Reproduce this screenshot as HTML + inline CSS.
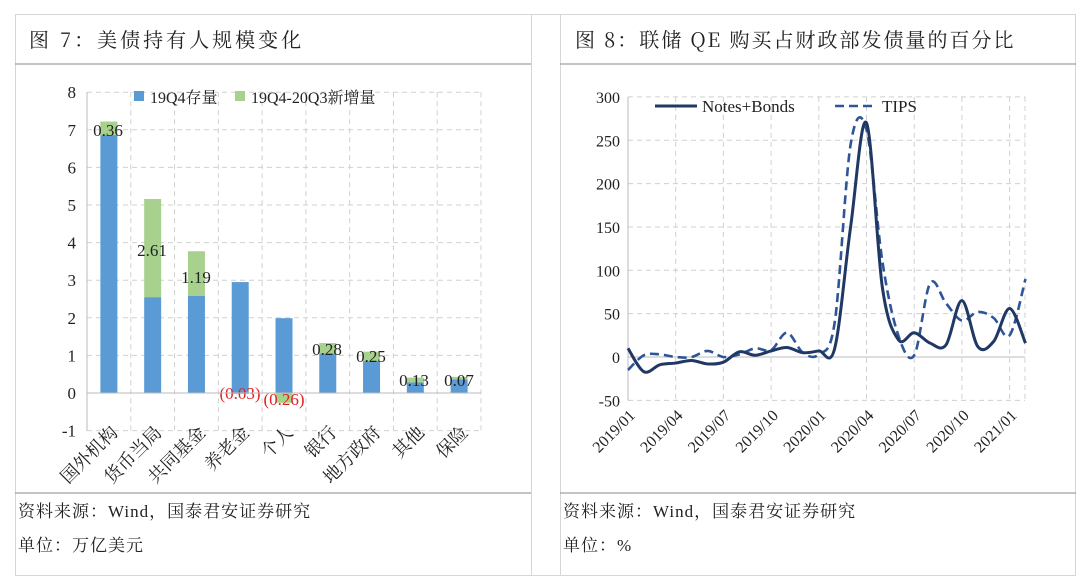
<!DOCTYPE html>
<html><head><meta charset="utf-8"><style>
body{margin:0;background:#fff;}
svg{display:block;font-family:"Liberation Serif","Noto Serif CJK SC",serif;}
</style></head><body>
<svg width="1080" height="585" viewBox="0 0 1080 585" xmlns="http://www.w3.org/2000/svg">
<rect width="1080" height="585" fill="#fff"/>
<g stroke="#d6d6d6" stroke-width="1" fill="none">
<line x1="15" y1="14.5" x2="1076" y2="14.5"/>
<line x1="15" y1="575.5" x2="1076" y2="575.5"/>
<line x1="15.5" y1="14" x2="15.5" y2="576"/>
<line x1="1075.5" y1="14" x2="1075.5" y2="576"/>
<line x1="531.5" y1="14" x2="531.5" y2="576"/>
<line x1="560.5" y1="14" x2="560.5" y2="576"/>
</g>
<g stroke="#a0a0a0" stroke-width="1.2">
<line x1="15" y1="64" x2="531" y2="64"/><line x1="560" y1="64" x2="1076" y2="64"/>
<line x1="15" y1="493" x2="531" y2="493"/><line x1="560" y1="493" x2="1076" y2="493"/>
</g>
<g font-family="'Noto Serif CJK SC','Liberation Serif',serif" font-size="20" fill="#222">
<text x="29" y="47" letter-spacing="3">图 7：美债持有人规模变化</text>
<text x="575" y="47" letter-spacing="2">图 8：联储 QE 购买占财政部发债量的百分比</text>
</g>
<g font-family="'Liberation Serif','Noto Serif CJK SC',serif" font-size="17" fill="#222">
<text x="18" y="517" letter-spacing="1">资料来源：Wind，国泰君安证券研究</text>
<text x="18" y="551" letter-spacing="1">单位：万亿美元</text>
<text x="563" y="517" letter-spacing="1">资料来源：Wind，国泰君安证券研究</text>
<text x="563" y="551" letter-spacing="1">单位：%</text>
</g>

<g id="lgrid" stroke="#d0d0d0" stroke-dasharray="5,4" stroke-width="1"></g>
<g id="lbars"></g>
<g font-size="17" fill="#222" text-anchor="end" id="lyt"></g>
<rect x="134" y="91" width="10" height="10" fill="#5b9bd5"/>
<text x="150" y="103" font-size="16" fill="#222">19Q4存量</text>
<rect x="235" y="91" width="10" height="10" fill="#a9d18e"/>
<text x="251" y="103" font-size="16" fill="#222">19Q4-20Q3新增量</text>

<g id="rgrid" stroke="#d0d0d0" stroke-dasharray="5,4" stroke-width="1"></g>
<g id="rlab" font-size="16" fill="#222"></g>
<path id="tips" fill="none" stroke="#2e5597" stroke-width="2.6" stroke-dasharray="9,5"/>
<path id="nb" fill="none" stroke="#1f3864" stroke-width="3"/>
<line x1="655" y1="106" x2="697" y2="106" stroke="#1f3864" stroke-width="3"/>
<text x="702" y="112" font-size="17" fill="#222">Notes+Bonds</text>
<line x1="835" y1="106" x2="877" y2="106" stroke="#2e5597" stroke-width="2.6" stroke-dasharray="9,5"/>
<text x="882" y="112" font-size="17" fill="#222">TIPS</text>
</svg>
<script>
var NS="http://www.w3.org/2000/svg";
function el(p,t,a,txt){var e=document.createElementNS(NS,t);for(var k in a)e.setAttribute(k,a[k]);if(txt!==undefined)e.textContent=txt;document.getElementById(p).appendChild(e);return e;}
var L=87,R=481,Y0=393,U=37.6,W=(R-L)/9;
for(var v=-1;v<=8;v++){var y=Y0-U*v;
 if(v!==0)el('lgrid','line',{x1:L,y1:y,x2:R,y2:y});
 el('lyt','text',{x:76,y:y+6},String(v));}
for(var i=1;i<=9;i++){var x=L+W*i;el('lgrid','line',{x1:x,y1:Y0-U*8,x2:x,y2:Y0+U});}
el('lgrid','line',{x1:L,y1:Y0-U*8,x2:L,y2:Y0+U,stroke:'#bbb','stroke-dasharray':'none'});
var blue=[6.86,2.55,2.58,2.95,1.99,1.05,0.85,0.28,0.36];
var grn=[0.36,2.61,1.19,-0.03,-0.26,0.28,0.25,0.13,0.07];
var names=['国外机构','货币当局','共同基金','养老金','个人','银行','地方政府','其他','保险'];
var labs=['0.36','2.61','1.19','(0.03)','(0.26)','0.28','0.25','0.13','0.07'];
var lp=[[108,136],[152,256],[196,283],[240,399],[284,405],[327,355],[371,362],[414,386],[459,386]];
for(var i=0;i<9;i++){var c=L+W*(i+0.5),bw=17;
 el('lbars','rect',{x:c-bw/2,y:Y0-U*blue[i],width:bw,height:U*blue[i],fill:'#5b9bd5'});
 if(grn[i]>0)el('lbars','rect',{x:c-bw/2,y:Y0-U*(blue[i]+grn[i]),width:bw,height:U*grn[i],fill:'#a9d18e'});
 else el('lbars','rect',{x:c-bw/2,y:Y0,width:bw,height:-U*grn[i],fill:'#a9d18e'});
 el('lbars','text',{x:lp[i][0],y:lp[i][1],'font-size':17,'text-anchor':'middle',fill:i==3||i==4?'#e02020':'#222'},labs[i]);
 el('lbars','text',{x:0,y:0,'font-size':18,'text-anchor':'end',fill:'#222',transform:'translate('+(c+10)+','+(Y0+U+3)+') rotate(-45)'},names[i]);
}
el('lbars','line',{x1:L,y1:Y0,x2:R,y2:Y0,stroke:'#bbb'});
var RL=628,RR=1025,RY0=357,RS=0.867,MX=15.9;
for(var v=-50;v<=300;v+=50){var y=RY0-RS*v;
 if(v!==0)el('rgrid','line',{x1:RL,y1:y,x2:RR,y2:y});
 el('rlab','text',{x:620,y:y+6,'text-anchor':'end'},String(v));}
el('rgrid','line',{x1:RL,y1:RY0,x2:RR,y2:RY0,stroke:'#bbb','stroke-dasharray':'none'});
el('rgrid','line',{x1:RL,y1:RY0-RS*300,x2:RL,y2:RY0+RS*50,stroke:'#bbb','stroke-dasharray':'none'});
var xl=['2019/01','2019/04','2019/07','2019/10','2020/01','2020/04','2020/07','2020/10','2021/01'];
for(var i=0;i<9;i++){var x=RL+MX*3*i;
 if(i>0)el('rgrid','line',{x1:x,y1:RY0-RS*300,x2:x,y2:RY0+RS*50});
 el('rlab','text',{x:0,y:0,'text-anchor':'end',transform:'translate('+(x+8)+','+(RY0+RS*50+16)+') rotate(-45)'},xl[i]);}
el('rgrid','line',{x1:RR,y1:RY0-RS*300,x2:RR,y2:RY0+RS*50});
function path(d){var p=d.map(function(v,i){return [RL+MX*i,RY0-RS*v];});var s='M'+p[0][0]+','+p[0][1];
 for(var i=0;i<p.length-1;i++){var a=p[i>0?i-1:0],b=p[i],c=p[i+1],e=p[i+2<p.length?i+2:i+1];
  s+=' C'+(b[0]+(c[0]-a[0])/6)+','+(b[1]+(c[1]-a[1])/6)+' '+(c[0]-(e[0]-b[0])/6)+','+(c[1]-(e[1]-b[1])/6)+' '+c[0]+','+c[1];}
 return s;}
var nb=[10,-17,-9,-7,-4,-8,-6,6,2,7,11,5,7,10,150,270,80,20,28,16,14,65,12,18,56,16];
var tp=[-15,2,3,0,0,7,0,3,10,8,28,5,3,40,245,262,110,25,2,85,62,42,52,45,25,90];
document.getElementById('nb').setAttribute('d',path(nb));
document.getElementById('tips').setAttribute('d',path(tp));
</script>
</body></html>
